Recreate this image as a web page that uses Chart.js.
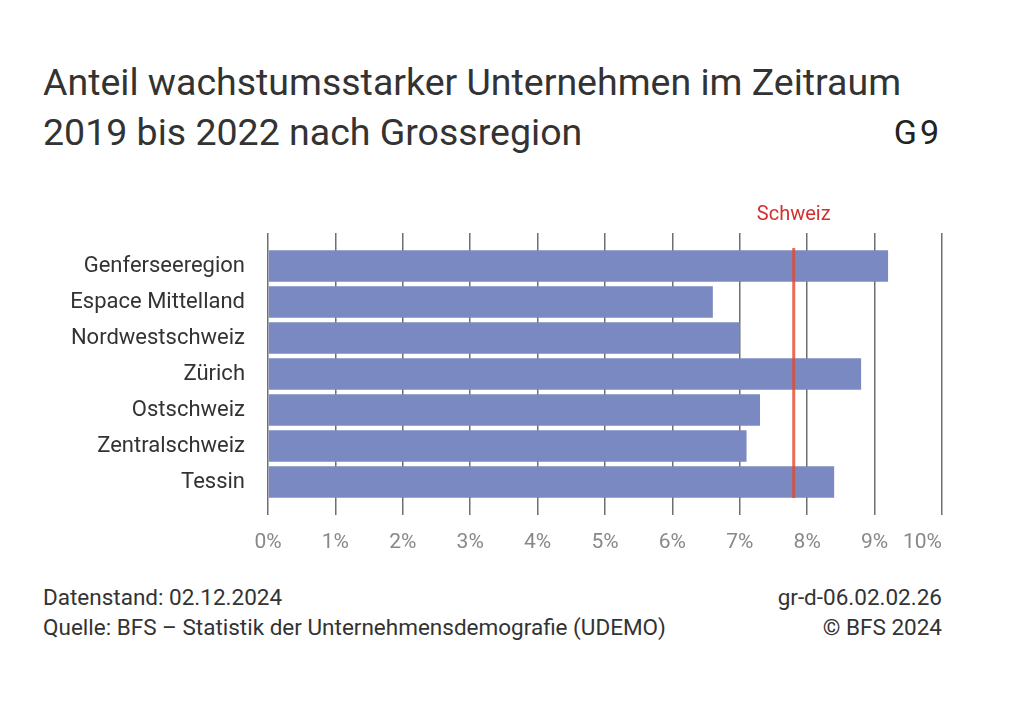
<!DOCTYPE html>
<html lang="de">
<head>
  <meta charset="UTF-8">
  <title>G9 Anteil wachstumsstarker Unternehmen</title>
  <style>
    body {
      margin: 0;
      width: 1024px;
      height: 726px;
      background: #ffffff;
      font-family: Roboto, 'Noto Sans', sans-serif;
      color: #333;
      position: relative;
      overflow: hidden;
    }
    .title {
      position: absolute;
      left: 43px;
      top: 57px;
      width: 940px;
      font-size: 37.5px;
      line-height: 50px;
      color: #333;
    }
    .gnum {
      position: absolute;
      right: 82px;
      top: 107px;
      font-size: 34px;
      line-height: 50px;
      letter-spacing: 3px;
      color: #222;
    }
    .chart-box {
      position: absolute;
      left: 0;
      top: 195px;
      width: 1024px;
      height: 370px;
    }
    .footer {
      position: absolute;
      left: 43px;
      right: 82px;
      top: 582px;
      font-size: 22.5px;
      line-height: 30px;
      color: #333;
    }
    .footer .row { display: flex; justify-content: space-between; }
  </style>
</head>
<body>
  <div class="title">Anteil wachstumsstarker Unternehmen im Zeitraum<br>2019 bis 2022 nach Grossregion</div>
  <div class="gnum">G9</div>
  <div class="chart-box"><canvas id="chart" width="1024" height="370"></canvas></div>
  <div class="footer">
    <div class="row"><span>Datenstand: 02.12.2024</span><span>gr-d-06.02.02.26</span></div>
    <div class="row"><span>Quelle: BFS – Statistik der Unternehmensdemografie (UDEMO)</span><span>© BFS 2024</span></div>
  </div>

  <script src="https://cdn.jsdelivr.net/npm/chart.js@4.4.1/dist/chart.umd.min.js"></script>
  <script>
    // data
    const regions = ['Genferseeregion', 'Espace Mittelland', 'Nordwestschweiz', 'Zürich', 'Ostschweiz', 'Zentralschweiz', 'Tessin'];
    const shares = [9.2, 6.6, 7.0, 8.8, 7.3, 7.1, 8.4];
    const schweizLabel = 'Schweiz';
    const schweizValue = 7.8;
    const xTicks = [0, 1, 2, 3, 4, 5, 6, 7, 8, 9, 10];

    // red reference line for Switzerland
    const schweizLine = {
      id: 'schweizLine',
      afterDatasetsDraw(chart) {
        const { ctx, chartArea, scales } = chart;
        const x = scales.x.getPixelForValue(schweizValue);
        ctx.save();
        ctx.strokeStyle = 'rgba(228, 72, 44, 0.8)';
        ctx.lineWidth = 3;
        ctx.beginPath();
        ctx.moveTo(x, chartArea.top);
        ctx.lineTo(x, chartArea.bottom - 2);
        ctx.stroke();
        ctx.fillStyle = '#d3312f';
        ctx.font = '20px Roboto';
        ctx.textAlign = 'center';
        ctx.textBaseline = 'middle';
        ctx.fillText(schweizLabel, x, 20);
        ctx.restore();
      }
    };

    // x tick labels, last one pulled inside like the original
    const xLabels = {
      id: 'xLabels',
      afterDraw(chart) {
        const { ctx, chartArea, scales } = chart;
        ctx.save();
        ctx.fillStyle = '#888';
        ctx.font = '21px Roboto';
        ctx.textBaseline = 'middle';
        xTicks.forEach((v, i) => {
          ctx.textAlign = i === xTicks.length - 1 ? 'right' : 'center';
          ctx.fillText(v + '%', scales.x.getPixelForValue(v), chartArea.bottom + 43);
        });
        ctx.restore();
      }
    };

    const gridStyle = { color: '#6f6f6f', lineWidth: 1.5, tickLength: 15 };

    new Chart(document.getElementById('chart').getContext('2d'), {
      type: 'bar',
      data: {
        labels: regions,
        datasets: [{
          data: shares,
          backgroundColor: '#7a89c2',
          barPercentage: 0.87,
          categoryPercentage: 1
        }]
      },
      options: {
        indexAxis: 'y',
        responsive: false,
        animation: false,
        layout: { padding: { top: 38, right: 82, left: 0, bottom: 50 } },
        plugins: { legend: { display: false }, tooltip: { enabled: false } },
        scales: {
          x: {
            min: 0,
            max: 10,
            afterBuildTicks: (scale) => { scale.ticks = xTicks.map(v => ({ value: v })); },
            grid: gridStyle,
            border: { display: false },
            ticks: { display: false }
          },
          xTop: {
            type: 'linear',
            axis: 'x',
            position: 'top',
            min: 0,
            max: 10,
            afterBuildTicks: (scale) => { scale.ticks = xTicks.map(v => ({ value: v })); },
            grid: Object.assign({ drawOnChartArea: false }, gridStyle),
            border: { display: false },
            ticks: { display: false }
          },
          y: {
            grid: { display: false, drawTicks: false, tickLength: 0 },
            border: { display: false },
            afterFit: (scale) => { scale.width = 268; },
            ticks: {
              color: '#333',
              padding: 23,
              font: { family: 'Roboto', size: 22 }
            }
          }
        }
      },
      plugins: [schweizLine, xLabels]
    });
  </script>
</body>
</html>
